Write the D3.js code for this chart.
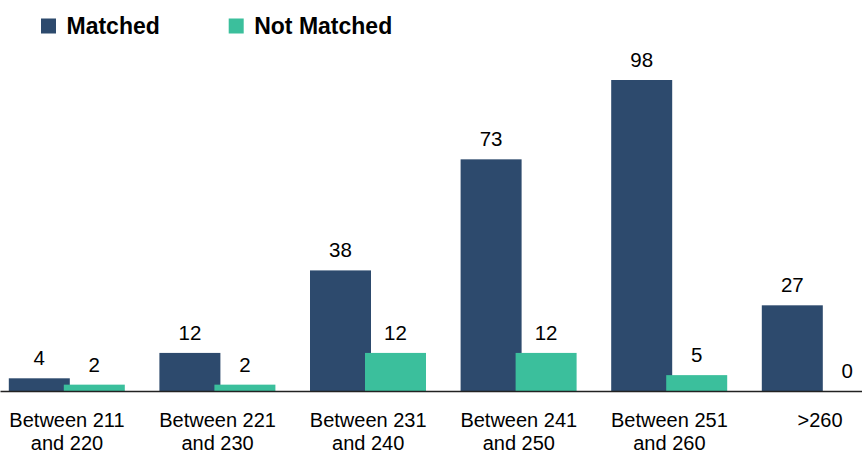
<!DOCTYPE html>
<html>
<head>
<meta charset="utf-8">
<script src="https://cdn.jsdelivr.net/npm/d3@7"></script>
<style>
  html, body { margin: 0; padding: 0; background: #fff; }
  svg { display: block; font-family: "Liberation Sans", Arial, sans-serif; }
</style>
</head>
<body>
<svg id="chart" width="862" height="468"></svg>
<script>
const categories = [
  ["Between 211", "and 220"],
  ["Between 221", "and 230"],
  ["Between 231", "and 240"],
  ["Between 241", "and 250"],
  ["Between 251", "and 260"],
  [">260"]
];
const seriesNames = ["Matched", "Not Matched"];
const matched = [4, 12, 38, 73, 98, 27];
const notMatched = [2, 2, 12, 12, 5, 0];
const colors = ["#2d4a6d", "#3bbf9c"];

const svg = d3.select("#chart");
const catKeys = categories.map(c => c.join(" "));

const x0 = d3.scaleBand().domain(catKeys).range([-8.3, 895.3]).paddingInner(0).paddingOuter(0);
const x1 = d3.scalePoint().domain(seriesNames).range([47.6, 102.6]);
const y = d3.scaleLinear().domain([0, 98]).range([391, 80]);
const barW = 61;

const data = [matched, notMatched];

// bars
seriesNames.forEach((s, si) => {
  const g = svg.append("g");
  g.selectAll("rect").data(catKeys).join("rect")
    .attr("x", (d) => x0(d) + x1(s) - barW / 2)
    .attr("y", (d, i) => y(data[si][i]))
    .attr("width", barW)
    .attr("height", (d, i) => y(0) - y(data[si][i]))
    .attr("fill", colors[si]);
});

// value labels
seriesNames.forEach((s, si) => {
  svg.append("g").selectAll("text").data(catKeys).join("text")
    .attr("x", (d) => x0(d) + x1(s))
    .attr("y", (d, i) => y(data[si][i]) - 13)
    .attr("text-anchor", "middle")
    .attr("font-size", 20.5)
    .attr("fill", "#000")
    .text((d, i) => data[si][i]);
});

// axis baseline
const axisG = svg.append("g").attr("transform", `translate(0,${y(0)})`);
const axisScale = d3.scaleLinear().domain([0, 1]).range([0, 862]);
axisG.call(d3.axisBottom(axisScale).ticks(0).tickSizeOuter(0));
axisG.select(".domain").attr("stroke", "#222").attr("stroke-width", 1.5);

// category labels
const catG = svg.append("g");
categories.forEach((lines, i) => {
  const t = catG.append("text")
    .attr("x", x0(catKeys[i]) + x0.bandwidth() / 2)
    .attr("y", 427)
    .attr("text-anchor", "middle")
    .attr("font-size", 20)
    .attr("fill", "#000");
  lines.forEach((ln, li) => {
    t.append("tspan")
      .attr("x", x0(catKeys[i]) + x0.bandwidth() / 2)
      .attr("dy", li === 0 ? 0 : 23)
      .text(ln);
  });
});

// legend
const legendX = [41, 228.7];
seriesNames.forEach((s, si) => {
  const g = svg.append("g");
  g.append("rect")
    .attr("x", legendX[si]).attr("y", 18.5)
    .attr("width", 15).attr("height", 15)
    .attr("fill", colors[si]);
  g.append("text")
    .attr("x", legendX[si] + 25.5).attr("y", 34)
    .attr("font-size", 23)
    .attr("font-weight", "bold")
    .attr("fill", "#000")
    .text(s);
});
</script>
</body>
</html>
